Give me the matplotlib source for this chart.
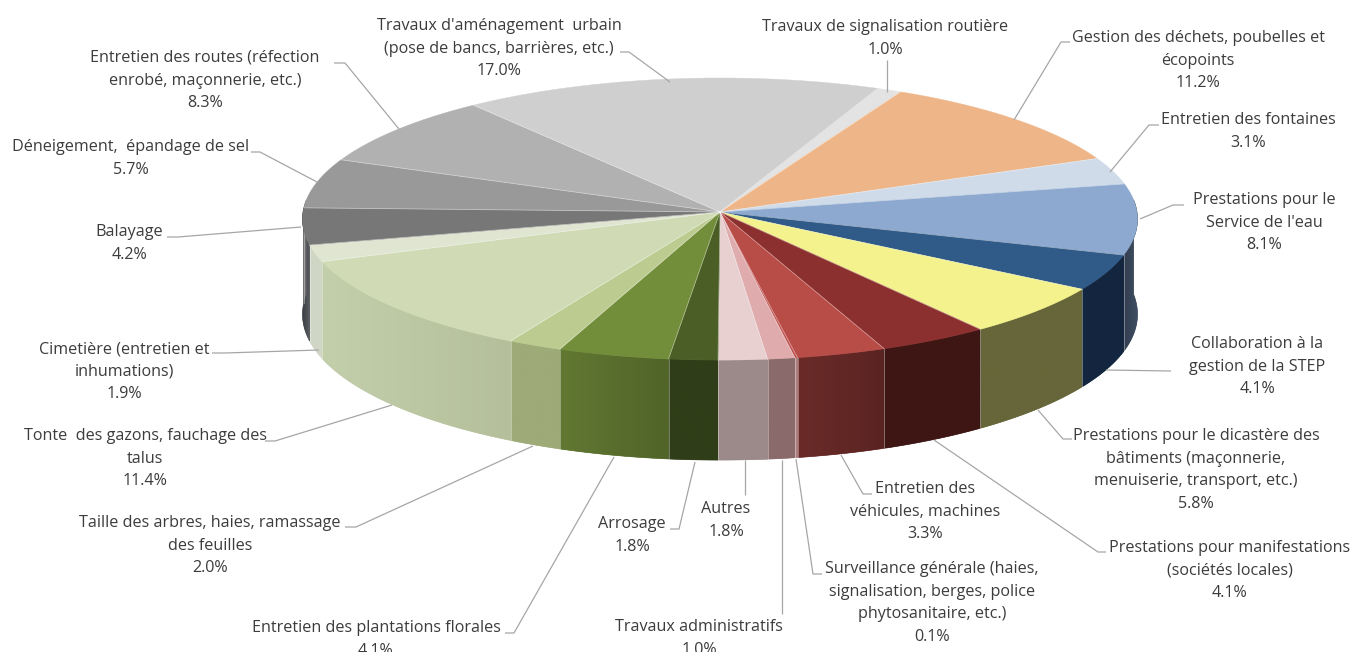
#!/usr/bin/env python3
"""Cost breakdown as a 3D-looking pie, drawn in pixel coordinates."""
import matplotlib

matplotlib.use("Agg")
import matplotlib.pyplot as plt
import numpy as np
from matplotlib.collections import LineCollection
from matplotlib.colors import to_rgb
from matplotlib.patches import Polygon

# ---- data, clockwise from the top --------------------------------------
LABELS = [
    "Travaux de signalisation routière",
    "Gestion des déchets, poubelles et\nécopoints",
    "Entretien des fontaines",
    "Prestations pour le\nService de l'eau",
    "Collaboration à la\ngestion de la STEP",
    "Prestations pour le dicastère des\nbâtiments (maçonnerie,\nmenuiserie, transport, etc.)",
    "Prestations pour manifestations\n(sociétés locales)",
    "Entretien des\nvéhicules, machines",
    "Surveillance générale (haies,\nsignalisation, berges, police\nphytosanitaire, etc.)",
    "Travaux administratifs",
    "Autres",
    "Arrosage",
    "Entretien des plantations florales",
    "Taille des arbres, haies, ramassage\ndes feuilles",
    "Tonte  des gazons, fauchage des\ntalus",
    "Cimetière (entretien et\ninhumations)",
    "Balayage",
    "Déneigement,  épandage de sel",
    "Entretien des routes (réfection\nenrobé, maçonnerie, etc.)",
    "Travaux d'aménagement  urbain\n(pose de bancs, barrières, etc.)",
]
VALUES = [1.0, 11.2, 3.1, 8.1, 4.1, 5.8, 4.1, 3.3, 0.1, 1.0,
          1.8, 1.8, 4.1, 2.0, 11.4, 1.9, 4.2, 5.7, 8.3, 17.0]
TOP_COLORS = ["#e3e3e3", "#eeb688", "#cfdbe9", "#8ea9cf", "#305a88", "#f3f28c", "#8c302f",
              "#b84c47", "#c0504d", "#dfabad", "#e8d0d0", "#4a5e25", "#728e3a", "#bccb90",
              "#d0dbb5", "#dfe5d0", "#777777", "#999999", "#b1b1b1", "#cfcfcf"]
SIDE_LEFT = ["#c8c8c8", "#c09070", "#a0a8b5", "#333f50", "#14263f", "#66663a", "#3e1614",
             "#6a2b28", "#b08080", "#8a6a6a", "#9c8a8a", "#2f3e18", "#617832", "#9eaa78",
             "#c3ceaa", "#d0d6c5", "#3a3d42", "#707070", "#909090", "#b0b0b0"]
SIDE_RIGHT = ["#c8c8c8", "#c09070", "#a0a8b5", "#3f4e63", "#14263f", "#66663a", "#3e1614",
              "#5a2422", "#b08080", "#8a6a6a", "#9c8a8a", "#2f3e18", "#516429", "#9eaa78",
              "#b5bf9b", "#d0d6c5", "#5a5d62", "#707070", "#909090", "#b0b0b0"]

# ---- layout, in pixels ---------------------------------------------------
W, H = 1355, 652
CX, CY = 720, 212
RX, RY = 417, 140.7
PERSP = 0.05
DEPTH = 95
START = 23.3  # degrees clockwise from 12 o'clock
TEXT = "#3c3c3c"
LEADER = "#a6a6a6"
LINE_H = 22.6

# centre x and y of first line, same order as LABELS
LABEL_POS = [(885, 27), (1198, 38), (1248, 120), (1264, 200), (1257, 344), (1196, 436),
             (1230, 548), (925, 489), (932, 569), (699, 627), (726, 509), (632, 524),
             (376, 628), (210, 523), (145, 436), (124, 349), (129, 232), (131, 147),
             (205, 58), (499, 26)]
LEADERS = [
    [(887, 60), (887, 92)],
    [(1070, 42), (1061, 42), (1014, 120)],
    [(1159, 125), (1149, 125), (1110, 172)],
    [(1184, 205), (1173, 205), (1140, 219)],
    [(1171, 371), (1106, 370)],
    [(1072, 439), (1063, 439), (1038, 410)],
    [(1106, 552), (1098, 552), (934, 440)],
    [(872, 494), (863, 494), (841, 455)],
    [(822, 574), (813, 574), (796, 459)],
    [(782, 614), (782, 460)],
    [(745, 495), (745, 460)],
    [(670, 529), (679, 529), (695, 462)],
    [(505, 633), (514, 633), (614, 457)],
    [(345, 527), (356, 527), (533, 446)],
    [(265, 441), (275, 441), (392, 405)],
    [(212, 353), (225, 353), (319, 350)],
    [(167, 237), (178, 237), (301, 227)],
    [(251, 152), (260, 152), (317, 182)],
    [(334, 63), (345, 63), (399, 129)],
    [(620, 52), (629, 52), (670, 82)],
]


def project(deg, down=0.0):
    """Disc angle (clockwise from the back) to screen x, y with mild perspective."""
    a = np.radians(deg)
    ux, uy = np.sin(a), np.cos(a)
    s = 1.0 / (1.0 + PERSP * uy)
    return CX + RX * ux * s, CY - RY * uy * s + down * s


def draw_side(ax, lo, hi, c_left, c_right):
    """Rim of one slice, shaded left to right across the slice."""
    vis_lo, vis_hi = max(lo, 85.0), min(hi, 275.0)
    if vis_hi <= vis_lo:
        return
    arc = np.linspace(vis_lo, vis_hi, max(3, int((vis_hi - vis_lo) * 2)))
    tx, ty = project(arc)
    bx, by = project(arc, DEPTH)
    pts = list(zip(tx, ty)) + list(zip(bx[::-1], by[::-1]))
    left, right = np.array(to_rgb(c_left)), np.array(to_rgb(c_right))
    mean = tuple((left + right) / 2)
    ax.add_patch(Polygon(pts, closed=True, fc=mean, ec=mean, lw=0.4, zorder=2))
    ramp = np.linspace(left, right, 64)[None, :, :]
    xmin, xmax = min(tx.min(), bx.min()), max(tx.max(), bx.max())
    ymin, ymax = min(ty.min(), by.min()), max(ty.max(), by.max())
    im = ax.imshow(ramp, extent=(xmin, xmax, ymax, ymin), aspect="auto",
                   interpolation="bilinear", zorder=2.5)
    im.set_clip_path(Polygon(pts, closed=True, transform=ax.transData))
    # pale seam at the slice border
    if lo >= 85.0:
        ax.plot(*zip(project(lo), project(lo, DEPTH)), color="white", alpha=0.35, lw=0.7, zorder=3)


def main():
    plt.rcParams["font.family"] = ["Open Sans", "DejaVu Sans"]
    fig = plt.figure(figsize=(W / 100, H / 100), dpi=100, facecolor="white")
    ax = fig.add_axes([0, 0, 1, 1])
    ax.axis("off")

    total = sum(VALUES)
    angle = START
    for val, top, c_l, c_r in zip(VALUES, TOP_COLORS, SIDE_LEFT, SIDE_RIGHT):
        sweep = val / total * 360.0
        draw_side(ax, angle, angle + sweep, c_l, c_r)
        arc = np.linspace(angle, angle + sweep, max(3, int(sweep * 2)))
        xs, ys = project(arc)
        pts = [(CX, CY)] + list(zip(xs, ys))
        ax.add_patch(Polygon(pts, closed=True, fc=top, ec=top, lw=0.3, zorder=4))
        ax.plot([CX, xs[0]], [CY, ys[0]], color="white", alpha=0.4, lw=0.6, zorder=5)
        angle += sweep

    ax.add_collection(LineCollection(LEADERS, colors=LEADER, linewidths=0.9, zorder=6))

    for label, val, (x, y) in zip(LABELS, VALUES, LABEL_POS):
        lines = label.split("\n") + [f"{val:.1f}%"]
        for i, line in enumerate(lines):
            ax.text(x, y + i * LINE_H, line, ha="center", va="center", fontsize=11.6,
                    color=TEXT, zorder=7)

    # imshow resets the limits, so they are set last
    ax.set_xlim(0, W)
    ax.set_ylim(H, 0)
    fig.savefig("out.png", dpi=100, facecolor="white")
    plt.close(fig)


if __name__ == "__main__":
    main()
